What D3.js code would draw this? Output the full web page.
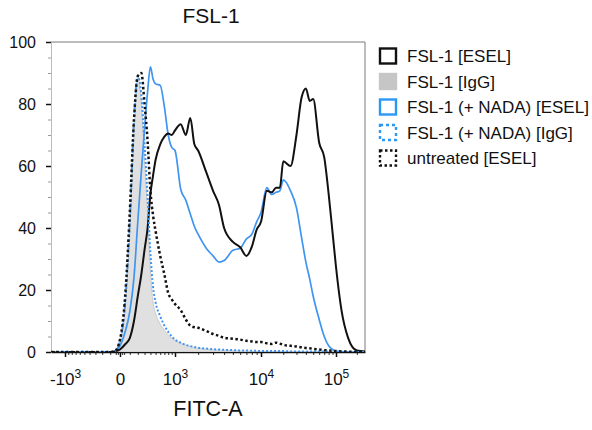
<!DOCTYPE html>
<html><head><meta charset="utf-8">
<script src="https://cdn.jsdelivr.net/npm/d3@7"></script>
<style>
body{margin:0;background:#fff}
svg{font-family:"Liberation Sans",Arial,Helvetica,sans-serif}
</style>
</head><body>
<svg id="chart" width="592" height="430"></svg>
<script>
// ---- DATA ----
const binValues = [-1600,-1000,-500,-200,-100,-50,
  0,50,100,150,200,250,300,350,400,450,500,
  600,700,800,900,1000,
  1200,1400,1600,1800,2000,
  2500,3000,3500,4000,
  5000,6000,7000,8000,9000,10000,
  12000,14000,16000,18000,20000,
  25000,30000,35000,40000,45000,50000,
  60000,70000,80000,90000,100000,
  120000,150000,200000,262144];

const fslESEL = [0,0,0,0,0,0.2,
  0.8,2.5,4.5,10,18,25,33,40,51,57,62,
  67,69.5,70.5,70,71.5,
  73.5,70,75.5,67,65,
  58,52,47.5,40,
  35.5,33.8,31,34,39.5,42,
  52,51.5,53,53,61.5,
  60,70,82,85,81,81.6,
  67.5,62.8,51,38.7,27.5,
  13.5,4.5,0.5,0.2];

const fslIgG = [0,0,0,0,0,0.3,
  3,14,38,70,89,80,62,45,26,16,12.5,
  9,7,5.5,4.5,3.8,
  2.8,2.2,1.8,1.4,1.2,
  0.9,0.7,0.6,0.5,
  0.4,0.3,0.3,0.2,0.2,0.2,
  0.1,0.1,0.1,0.1,0.1,
  0,0,0,0,0,0,
  0,0,0,0,0,
  0,0,0,0];

const nadaESEL = [0,0,0,0,0,0.2,
  2,6.5,13,24,42,58,72,84,92,88,86.5,
  86,79,70,66,65,
  52.5,49,44.5,40.5,38,
  33.5,31,29,29.5,
  32.8,33.5,36.5,38,42,45,
  53,50.8,51.5,52,55.5,
  52,46.5,37,29,23.5,18,
  10.5,5,2,0.8,0.3,
  0.1,0,0,0];

const nadaIgG = [0,0,0,0,0,0.3,
  3.5,16,42,75,89,83,67,50,32,21,16,
  11.5,8.5,6.5,5,4,
  3,2.3,1.9,1.6,1.4,
  1.1,0.9,0.8,0.7,
  0.6,0.5,0.5,0.4,0.4,0.3,
  0.3,0.3,0.3,0.3,0.3,
  0.2,0.2,0.2,0.2,0.2,0.2,
  0.2,0.2,0.1,0.1,0.1,
  0,0,0,0];

const untreatedESEL = [0,0,0,0,0,0.3,
  4,18,45,75,89,90,80,68,52,44,39,
  31,25,19,17,15.5,
  13.5,10.5,8.5,8,7.8,
  6.8,5.8,5.2,4.6,
  4.3,4,3.6,3.4,3.2,3.2,
  2.8,2.6,3,2.7,2.3,
  2,1.8,1.5,1.3,1.2,1,
  0.8,0.6,0.5,0.4,0.3,
  0.2,0.1,0,0];

const seriesNames = ["FSL-1 [ESEL]","FSL-1 [IgG]","FSL-1 (+ NADA) [ESEL]","FSL-1 (+ NADA) [IgG]","untreated [ESEL]"];

const xMajorTicks = [-1000,0,1000,10000,100000];
const xMajorBase = ["-10","0","10","10","10"];
const xMajorExp  = ["3","","3","4","5"];
const xMinorTicks = [-900,-800,-700,-600,-500,-400,-300,-200,-100,-40,-20,20,40,
  100,200,300,400,500,600,700,800,900,
  2000,3000,4000,5000,6000,7000,8000,9000,
  20000,30000,40000,50000,60000,70000,80000,90000,200000];
const yMajorTicks = [0,20,40,60,80,100];
const yMinorTicks = [5,10,15,25,30,35,45,50,55,65,70,75,85,90,95];

const titleText = "FSL-1";
const xLabel = "FITC-A";

// ---- LAYOUT ----
const px0 = 51, px1 = 365, py0 = 352, py1 = 42;
const xBreaks = [-1600,-1000,0,1000,10000,100000,262144];
const xBreakFrac = [0,0.0446,0.2197,0.3949,0.6688,0.9076,1];

const x = d3.scaleSymlog().constant(400)
  .domain(xBreaks)
  .range(xBreakFrac.map(f => px0 + f*(px1-px0)));
const y = d3.scaleLinear().domain([0,100]).range([py0,py1]);

const svg = d3.select("#chart");
const FONT = '"Liberation Sans",Arial,Helvetica,sans-serif';
const blue = "#3f95f0";

svg.append("defs").append("clipPath").attr("id","clip")
  .append("rect").attr("x",px0).attr("y",py1-2).attr("width",px1-px0).attr("height",py0-py1+2);

// frame (top & right)
svg.append("path")
  .attr("d",`M${px0},${py1}H${px1}V${py0}`)
  .attr("fill","none").attr("stroke","#7a7a7a").attr("stroke-width",1);

// y axis
const yAxisMinor = d3.axisLeft(y).tickValues(yMinorTicks).tickSize(3).tickFormat("");
svg.append("g").attr("transform",`translate(${px0},0)`).call(yAxisMinor)
  .call(g=>{g.select(".domain").attr("stroke","#bbbbbb");g.selectAll(".tick line").attr("stroke","#9a9a9a");});
const yAxis = d3.axisLeft(y).tickValues(yMajorTicks).tickSize(5).tickPadding(10).tickSizeOuter(0);
svg.append("g").attr("transform",`translate(${px0},0)`).call(yAxis)
  .call(g=>{
    g.select(".domain").remove();
    g.selectAll(".tick line").attr("stroke","#111").attr("stroke-width",1.5);
    g.selectAll(".tick text").attr("font-size",16).attr("fill","#111").attr("font-family",FONT);
  });

// x axis
const xAxisMinor = d3.axisBottom(x).tickValues(xMinorTicks).tickSize(3).tickFormat("").tickSizeOuter(0);
svg.append("g").attr("transform",`translate(0,${py0})`).call(xAxisMinor)
  .call(g=>{g.select(".domain").remove();g.selectAll(".tick line").attr("stroke","#333");});
const xAxis = d3.axisBottom(x).tickValues(xMajorTicks).tickSize(5).tickFormat("").tickSizeOuter(0);
const gx = svg.append("g").attr("transform",`translate(0,${py0})`).call(xAxis);
gx.select(".domain").attr("stroke","#111").attr("stroke-width",1.5);
gx.selectAll(".tick line").attr("stroke","#111").attr("stroke-width",1.5);
gx.selectAll(".tick").each(function(d,i){
  const t = d3.select(this).append("text")
    .attr("y",33).attr("text-anchor","middle").attr("font-size",17).attr("fill","#111")
    .attr("font-family",FONT);
  t.append("tspan").text(xMajorBase[i]);
  if (xMajorExp[i]) t.append("tspan").attr("dy",-7).attr("font-size",12).text(xMajorExp[i]);
});

// curves
const pts = arr => binValues.map((v,i)=>[v,arr[i]]);
const line = d3.line().x(d=>x(d[0])).y(d=>y(d[1])).curve(d3.curveMonotoneX);
const area = d3.area().x(d=>x(d[0])).y0(y(0)).y1(d=>y(d[1])).curve(d3.curveMonotoneX);
const plot = svg.append("g").attr("clip-path","url(#clip)");

plot.append("path").attr("d",area(pts(fslIgG)))
  .attr("fill","#e0e0e0").attr("stroke","#c2c2c2").attr("stroke-width",0.8);
plot.append("path").attr("d",line(pts(nadaESEL)))
  .attr("fill","none").attr("stroke",blue).attr("stroke-width",1.7);
plot.append("path").attr("d",line(pts(fslESEL)))
  .attr("fill","none").attr("stroke","#111").attr("stroke-width",2);
plot.append("path").attr("d",line(pts(nadaIgG)))
  .attr("fill","none").attr("stroke",blue).attr("stroke-width",2).attr("stroke-dasharray","2,2");
plot.append("path").attr("d",line(pts(untreatedESEL)))
  .attr("fill","none").attr("stroke","#111").attr("stroke-width",2.5).attr("stroke-dasharray","2.5,2.5");

// title & x label
svg.append("text").attr("x",(px0+px1)/2+3).attr("y",23).attr("text-anchor","middle")
  .attr("font-size",21).attr("fill","#111").text(titleText);
svg.append("text").attr("x",(px0+px1)/2).attr("y",416).attr("text-anchor","middle")
  .attr("font-size",21.5).attr("fill","#111").text(xLabel);

// legend
const legendStyles = [
  {stroke:"#111", fill:"none", dash:null},
  {stroke:"none", fill:"#c6c6c6", dash:null},
  {stroke:"#2b98f5", fill:"none", dash:null},
  {stroke:"#2b98f5", fill:"none", dash:"3,3"},
  {stroke:"#111", fill:"none", dash:"2.5,2.5"}
];
const lg = svg.append("g").attr("transform","translate(380,56)");
seriesNames.forEach((name,i)=>{
  const row = lg.append("g").attr("transform",`translate(0,${i*25.5})`);
  const s = legendStyles[i];
  if (s.stroke === "none") {
    row.append("rect").attr("x",-1.2).attr("y",-8.7).attr("width",18.4).attr("height",17.4).attr("fill",s.fill);
  } else {
    row.append("rect").attr("x",0).attr("y",-7.5).attr("width",16).attr("height",15)
      .attr("fill","none").attr("stroke",s.stroke).attr("stroke-width",2.4)
      .attr("stroke-dasharray",s.dash);
  }
  row.append("text").attr("x",27).attr("y",0).attr("dy","0.36em")
    .attr("font-size",17).attr("fill","#111").text(name);
});
</script>
</body></html>
